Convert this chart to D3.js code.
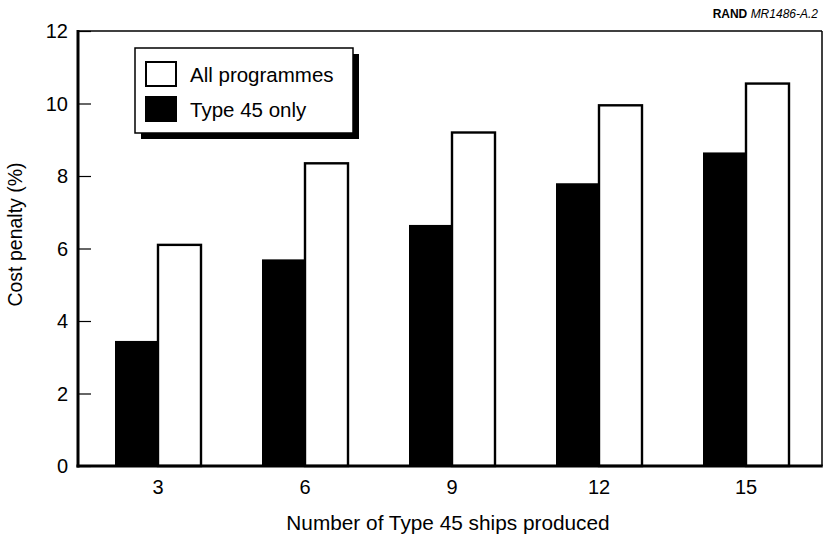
<!DOCTYPE html>
<html>
<head>
<meta charset="utf-8">
<script src="https://cdn.jsdelivr.net/npm/d3@7"></script>
<style>
  html, body { margin: 0; padding: 0; background: #fff; }
  svg { display: block; font-family: "Liberation Sans", Arial, Helvetica, sans-serif; }
</style>
</head>
<body>
<svg id="chart" width="825" height="540"></svg>
<script>
// Ship counts on the x axis
const shipCounts = ["3", "6", "9", "12", "15"];
// Cost penalty (%) for each series
const type45Only = [3.45, 5.7, 6.65, 7.8, 8.65];
const allProgrammes = [6.1, 8.35, 9.2, 9.95, 10.55];
const seriesNames = ["Type 45 only", "All programmes"];
const yTicks = [0, 2, 4, 6, 8, 10, 12];

const svg = d3.select("#chart");
const plot = { left: 78, right: 822, top: 31, bottom: 466 };

const x = d3.scaleBand()
  .domain(shipCounts)
  .range([plot.left + 4, plot.right])
  .paddingInner(0.415)
  .paddingOuter(0.2245);

const xSeries = d3.scaleBand()
  .domain(seriesNames)
  .range([0, x.bandwidth()]);

const y = d3.scaleLinear().domain([0, 12]).range([plot.bottom, plot.top]);

const rows = shipCounts.map((c, i) => ({
  count: c,
  values: [
    { name: "Type 45 only", value: type45Only[i] },
    { name: "All programmes", value: allProgrammes[i] }
  ]
}));

// Bars
const groups = svg.append("g").selectAll("g")
  .data(rows).join("g")
  .attr("transform", d => `translate(${x(d.count)},0)`);

groups.selectAll("rect")
  .data(d => d.values).join("rect")
  .attr("x", d => xSeries(d.name))
  .attr("y", d => y(d.value))
  .attr("width", xSeries.bandwidth())
  .attr("height", d => y(0) - y(d.value))
  .attr("fill", d => d.name === "Type 45 only" ? "#000" : "#fff")
  .attr("stroke", d => d.name === "Type 45 only" ? "none" : "#000")
  .attr("stroke-width", 2.4);

// Frame: thin top and right borders
svg.append("line")
  .attr("x1", plot.left).attr("x2", plot.right)
  .attr("y1", plot.top).attr("y2", plot.top)
  .attr("stroke", "#000").attr("stroke-width", 1.5);
svg.append("line")
  .attr("x1", plot.right).attr("x2", plot.right)
  .attr("y1", plot.top).attr("y2", plot.bottom)
  .attr("stroke", "#000").attr("stroke-width", 1.5);

// Y axis with inward ticks
const yAxis = svg.append("g")
  .attr("transform", `translate(${plot.left},0)`)
  .call(d3.axisRight(y).tickValues(yTicks).tickSize(13).tickFormat(""));
yAxis.select(".domain").remove();
yAxis.selectAll(".tick line").attr("stroke", "#000").attr("stroke-width", 1.2);

svg.append("g").selectAll("text")
  .data(yTicks).join("text")
  .attr("x", plot.left - 10)
  .attr("y", d => y(d))
  .attr("dy", "0.35em")
  .attr("text-anchor", "end")
  .attr("font-size", 20)
  .attr("fill", "#000")
  .text(d => d);

svg.append("line")
  .attr("x1", plot.left).attr("x2", plot.left)
  .attr("y1", plot.top - 1).attr("y2", plot.bottom + 1.5)
  .attr("stroke", "#000").attr("stroke-width", 3);

// X axis
const xAxis = svg.append("g")
  .attr("transform", `translate(0,${plot.bottom})`)
  .call(d3.axisBottom(x).tickSize(0).tickPadding(14));
xAxis.select(".domain").remove();
xAxis.selectAll("text")
  .attr("font-size", 20)
  .attr("font-family", "Liberation Sans, Arial, Helvetica, sans-serif")
  .attr("fill", "#000");

svg.append("line")
  .attr("x1", plot.left - 1.5).attr("x2", plot.right + 0.75)
  .attr("y1", plot.bottom).attr("y2", plot.bottom)
  .attr("stroke", "#000").attr("stroke-width", 3);

// Axis titles
svg.append("text")
  .attr("x", 448)
  .attr("y", 530)
  .attr("text-anchor", "middle")
  .attr("font-size", 20.8)
  .text("Number of Type 45 ships produced");

svg.append("text")
  .attr("transform", `translate(22,${(plot.top + plot.bottom) / 2 - 14}) rotate(-90)`)
  .attr("text-anchor", "middle")
  .attr("font-size", 19.5)
  .text("Cost penalty (%)");

// Document reference
const ref = svg.append("text")
  .attr("x", 818).attr("y", 18)
  .attr("text-anchor", "end")
  .attr("font-size", 12);
ref.append("tspan").attr("font-weight", "bold").text("RAND ");
ref.append("tspan").attr("font-style", "italic").text("MR1486-A.2");

// Legend with drop shadow
const legend = svg.append("g").attr("transform", "translate(135,48)");
const lw = 218, lh = 85;
legend.append("rect")
  .attr("x", 6).attr("y", 6).attr("width", lw).attr("height", lh)
  .attr("fill", "#000");
legend.append("rect")
  .attr("width", lw).attr("height", lh)
  .attr("fill", "#fff").attr("stroke", "#000").attr("stroke-width", 1.5);

const legendItems = [
  { name: "All programmes", fill: "#fff" },
  { name: "Type 45 only", fill: "#000" }
];
const li = legend.selectAll("g.item")
  .data(legendItems).join("g")
  .attr("class", "item")
  .attr("transform", (d, i) => `translate(11,${14 + i * 35})`);
li.append("rect")
  .attr("width", 30).attr("height", 24)
  .attr("fill", d => d.fill)
  .attr("stroke", "#000").attr("stroke-width", 2);
li.append("text")
  .attr("x", 44).attr("y", 20)
  .attr("font-size", 20.5)
  .text(d => d.name);
</script>
</body>
</html>
